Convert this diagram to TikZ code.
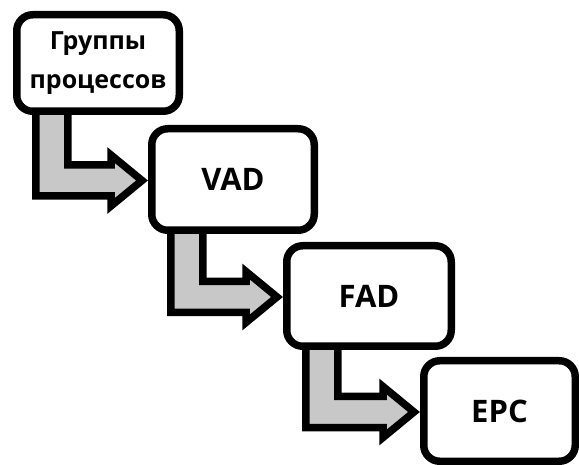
\documentclass[tikz,border=0pt]{standalone}
\usepackage{fontspec}
\setmainfont{Open Sans}
\usetikzlibrary{calc}
\pgfdeclarelayer{background}
\pgfsetlayers{background,main}
\definecolor{arrowgray}{RGB}{200,200,200}
\tikzset{
  stagebox/.style={draw=black, fill=white, line width=7.5pt, rounded corners=16pt,
    inner sep=0pt, outer sep=0pt, font=\bfseries\fontsize{31}{36}\selectfont, align=center},
  flowarrow/.style={draw=black, fill=arrowgray, line width=7.5pt, line join=miter, miter limit=10}
}
\begin{document}
\begin{tikzpicture}[x=1pt,y=-1pt]
\useasboundingbox (0,0) rectangle (579,465);
\node[stagebox, minimum width=162.5pt, minimum height=96.5pt, font=\bfseries\fontsize{25}{39}\selectfont] (b1) at (98,63) {Группы\\процессов};
\node[stagebox, minimum width=162.5pt, minimum height=101.5pt] (b2) at (233,179.5) {VAD};
\node[stagebox, minimum width=164.5pt, minimum height=100.5pt] (b3) at (369,296) {FAD};
\node[stagebox, minimum width=151.5pt, minimum height=100.5pt] (b4) at (499.5,411) {EPC};
\coordinate (t2) at ($(b2.west)+(-9.75,1)$);
\coordinate (t3) at ($(b3.west)+(-9.75,1)$);
\coordinate (t4) at ($(b4.west)+(-9.75,1)$);
\begin{pgfonlayer}{background}
\foreach \s/\t in {b1/t2, b2/t3, b3/t4}{
  \draw[flowarrow] ($(\s.south west)+(19,-6)$) -- ($(\s.south west |- \t)+(19,15.5)$)
    -- ($(\t)+(-31,15.5)$) -- ($(\t)+(-31,25.5)$) -- (\t) -- ($(\t)+(-31,-25.5)$)
    -- ($(\t)+(-31,-15.5)$) -- ($(\s.south west |- \t)+(51,-15.5)$)
    -- ($(\s.south west)+(51,-6)$) -- cycle;
}
\end{pgfonlayer}
\end{tikzpicture}
\end{document}
